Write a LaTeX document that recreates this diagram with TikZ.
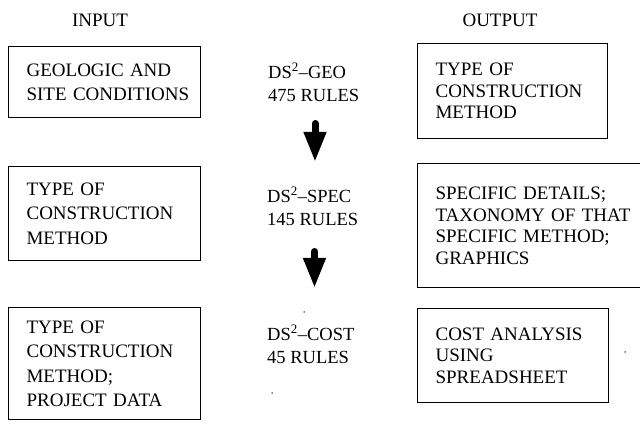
\documentclass[tikz,border=0pt]{standalone}
\usepackage{fontspec}
\setmainfont{Liberation Serif}
\usetikzlibrary{arrows.meta}
\begin{document}
\begin{tikzpicture}[x=1pt,y=-1pt,
  lbl/.style={font=\fontsize{19}{22}\selectfont, inner sep=0pt},
  inbox/.style={draw, line width=1.2pt, anchor=north west, align=left,
    inner xsep=18pt, inner ysep=0pt, text width=156pt, minimum height=#1,
    font=\fontsize{19}{24.5}\selectfont},
  outbox/.style={draw, line width=1.2pt, anchor=north west, align=left,
    inner xsep=18pt, inner ysep=0pt, minimum height=#1,
    font=\fontsize{19}{21.5}\selectfont},
  midtext/.style={anchor=north west, align=left, inner sep=0pt,
    font=\fontsize{18.5}{23}\selectfont},
  bigarrow/.style={line width=7pt, line cap=round, -{Triangle[length=30pt,width=21pt]}},
  speck/.style={fill=black, inner sep=0pt, minimum size=1.5pt, circle}
]
\useasboundingbox (0,0) rectangle (640,430);

\node[lbl] (inT) at (100,20) {INPUT};
\node[lbl] (outT) at (500,20) {OUTPUT};

\node[inbox=71pt] (in1) at (8,46) {\mbox{GEOLOGIC AND}\\\mbox{SITE CONDITIONS}};
\node[inbox=94pt] (in2) at (8,166) {\mbox{TYPE OF}\\\mbox{CONSTRUCTION}\\\mbox{METHOD}};
\node[inbox=112pt] (in3) at (8,307) {\mbox{TYPE OF}\\\mbox{CONSTRUCTION}\\\mbox{METHOD;}\\\mbox{PROJECT DATA}};

\node[outbox=95pt, text width=154pt] (out1) at (417,43) {\mbox{TYPE OF}\\\mbox{CONSTRUCTION}\\\mbox{METHOD}};
\node[outbox=124pt, text width=192pt] (out2) at (417,163) {\mbox{SPECIFIC DETAILS;}\\\mbox{TAXONOMY OF THAT}\\\mbox{SPECIFIC METHOD;}\\\mbox{GRAPHICS}};
\node[outbox=94pt, text width=155pt] (out3) at (417,308) {\mbox{COST ANALYSIS}\\\mbox{USING}\\\mbox{SPREADSHEET}};

\node[midtext] (m1) at (268,63) {DS\textsuperscript{2}–GEO\\475~RULES};
\node[midtext] (m2) at (267,187) {DS\textsuperscript{2}–SPEC\\145~RULES};
\node[midtext] (m3) at (267,325) {DS\textsuperscript{2}–COST\\45~RULES};

\coordinate (a1s) at (315,123.5);
\coordinate (a1e) at (315,162);
\coordinate (a2s) at (314.5,251.5);
\coordinate (a2e) at (314.5,288);
\draw[bigarrow] (a1s) -- (a1e);
\draw[bigarrow] (a2s) -- (a2e);

\node[speck] (d1) at (304,312) {};
\node[speck] (d2) at (272,393) {};
\node[speck] (d3) at (625,352) {};
\end{tikzpicture}
\end{document}
